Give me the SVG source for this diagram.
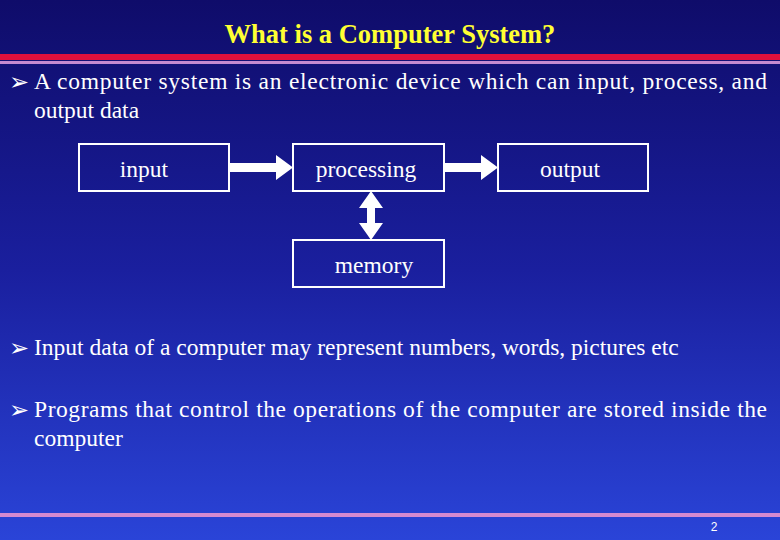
<svg xmlns="http://www.w3.org/2000/svg" width="780" height="540" viewBox="0 0 780 540">
<defs>
<linearGradient id="bg" x1="0" y1="0" x2="0" y2="1">
<stop offset="0" stop-color="#0f0c6a"/>
<stop offset="0.5" stop-color="#1a1f9e"/>
<stop offset="1" stop-color="#2a44d8"/>
</linearGradient>
<style>
text{font-family:"Liberation Serif","Times New Roman",serif;fill:#fff;font-size:23.5px}
.box{fill:none;stroke:#fff;stroke-width:2}
.t{font-weight:bold;fill:#ffff33;font-size:26.5px}
.b{font-family:"DejaVu Sans",sans-serif;font-size:24px}
.c{fill:#fff}
</style>
</defs>
<rect width="780" height="540" fill="url(#bg)"/>
<rect x="0" y="54" width="780" height="6" fill="#e0103c"/>
<rect x="0" y="61" width="780" height="3" fill="#c58ad0"/>
<rect x="0" y="513" width="780" height="4" fill="#d58ad0"/>
<text class="t" x="390" y="43" text-anchor="middle">What is a Computer System?</text>
<text class="b" x="9" y="90">➢</text>
<text x="34" y="89" textLength="733" lengthAdjust="spacing">A computer system is an electronic device which can input, process, and</text>
<text x="34" y="118">output data</text>
<text class="b" x="9" y="356">➢</text>
<text x="34" y="355">Input data of a computer may represent numbers, words, pictures etc</text>
<text class="b" x="9" y="418">➢</text>
<text x="34" y="417" textLength="733" lengthAdjust="spacing">Programs that control the operations of the computer are stored inside the</text>
<text x="34" y="446">computer</text>
<text x="714" y="531" style="font-family:'Liberation Sans',Arial,sans-serif;font-size:12px" text-anchor="middle">2</text>
<g id="input"><rect class="box" x="79" y="144" width="150" height="47"/><text x="144" y="177" text-anchor="middle">input</text></g>
<g id="processing"><rect class="box" x="293" y="144" width="151" height="47"/><text x="366" y="177" text-anchor="middle">processing</text></g>
<g id="output"><rect class="box" x="498" y="144" width="150" height="47"/><text x="570" y="177" text-anchor="middle">output</text></g>
<g id="memory"><rect class="box" x="293" y="240" width="151" height="47"/><text x="374" y="273" text-anchor="middle">memory</text></g>
<g id="connectors">
<polygon class="c" points="229,163 276,163 276,155 293,167.5 276,180 276,172 229,172"/>
<polygon class="c" points="444,163 481,163 481,155 498,167.5 481,180 481,172 444,172"/>
<polygon class="c" points="371,191 383,208 375,208 375,223 383,223 371,240 359,223 367,223 367,208 359,208"/>
</g>
</svg>
